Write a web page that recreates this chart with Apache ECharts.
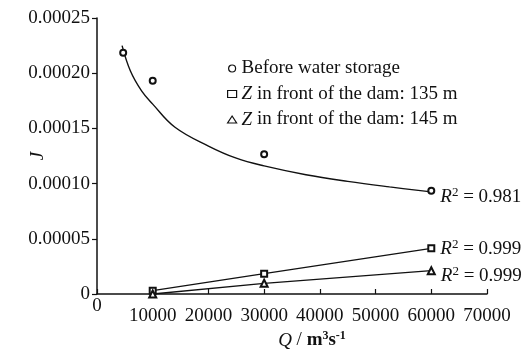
<!DOCTYPE html>
<html>
<head>
<meta charset="utf-8">
<script src="https://cdn.jsdelivr.net/npm/echarts@6/dist/echarts.min.js"></script>
<style>
html,body{margin:0;padding:0;background:#fff;}
#chart{width:527px;height:354px;}
</style>
</head>
<body>
<div id="chart"></div>
<script>
// ---- data ----
var beforeQ = [4700, 10000, 30000, 60000];
var beforeJ = [0.0002186, 0.0001932, 0.0001265, 0.0000936];

// fitted power curve
var fitQ = [4500, 6000, 8000, 10000, 14000, 20000, 25000, 30000, 37500, 45000, 52500, 60000];
var fitJ = [0.000225, 0.000202, 0.000184, 0.000172, 0.000151, 0.000134, 0.000123, 0.000116, 0.000108, 0.000102, 0.000097, 0.0000925];

var z135Q = [10000, 30000, 60000];
var z135J = [0.000003, 0.0000184, 0.0000414];

var z145Q = [10000, 30000, 60000];
var z145J = [0.0, 0.0000097, 0.0000211];

var seriesNames = ['Before water storage', 'Z in front of the dam: 135 m', 'Z in front of the dam: 145 m'];
var r2Labels = ['0.981', '0.999', '0.999'];

var FONT = '"Liberation Serif", "Times New Roman", serif';
var INK = '#111';
var FS = 19;

function pairs(xs, ys) { return xs.map(function (x, i) { return [x, ys[i]]; }); }

var r2Rich = {
  i: { fontFamily: FONT, fontSize: FS, fontStyle: 'italic', color: INK },
  sup: { fontFamily: FONT, fontSize: 13, color: INK, padding: [0, 0, 9, 0] },
  t: { fontFamily: FONT, fontSize: FS, color: INK }
};
function withLastLabel(xs, ys, txt, dy) {
  var d = pairs(xs, ys);
  var n = d.length - 1;
  d[n] = {
    value: [xs[n], ys[n]],
    label: {
      show: true, position: 'right', distance: 5, offset: [0, dy],
      opacity: 1,
      formatter: '{i|R}{sup|2}{t| = ' + txt + '}',
      rich: r2Rich
    }
  };
  return d;
}

var chart = echarts.init(document.getElementById('chart'), null, { renderer: 'canvas' });
chart.setOption({
  backgroundColor: '#fff',
  animation: false,
  grid: { left: 97, right: 40, top: 18, bottom: 60, containLabel: false, outerBoundsMode: 'none' },
  legend: {
    orient: 'vertical', left: 222, top: 54, itemGap: 6.5, padding: 5,
    itemWidth: 9, itemHeight: 7,
    data: [
      { name: seriesNames[0], icon: 'circle' },
      { name: seriesNames[1], icon: 'rect' },
      { name: seriesNames[2], icon: 'triangle' }
    ],
    itemStyle: { color: '#fff', borderColor: INK, borderWidth: 1.2 },
    formatter: function (name) {
      if (name.indexOf('Z ') === 0) return '{i|Z}{t|' + name.slice(1) + '}';
      return '{t|' + name + '}';
    },
    textStyle: {
      fontFamily: FONT, fontSize: FS, color: INK, lineHeight: 18,
      rich: {
        i: { fontFamily: FONT, fontSize: FS, fontStyle: 'italic', color: INK, lineHeight: 18 },
        t: { fontFamily: FONT, fontSize: FS, color: INK, lineHeight: 18 }
      }
    }
  },
  xAxis: {
    type: 'value', min: 0, max: 70000, interval: 10000,
    name: '{q|Q}{t| / }{b|m}{sup|3}{b|s}{sup|-1}',
    nameLocation: 'middle', nameGap: 36, nameMoveOverlap: false,
    nameTextStyle: {
      padding: [0, 0, 0, 40],
      rich: {
        q: { fontFamily: FONT, fontSize: FS, fontStyle: 'italic', color: INK },
        t: { fontFamily: FONT, fontSize: FS, color: INK },
        b: { fontFamily: FONT, fontSize: FS, fontWeight: 'bold', color: INK },
        sup: { fontFamily: FONT, fontSize: 12, fontWeight: 'bold', color: INK, padding: [0, 0, 9, 0] }
      }
    },
    axisLine: { show: true, onZero: false, lineStyle: { color: INK, width: 1.5 } },
    axisTick: { show: true, inside: true, length: 5, lineStyle: { color: INK, width: 1.2 } },
    splitLine: { show: false },
    axisLabel: {
      margin: 3,
      fontFamily: FONT, fontSize: FS, color: INK,
      formatter: function (v) { return v === 0 ? '{z|0}' : '{n|' + v + '}'; },
      rich: {
        z: { fontFamily: FONT, fontSize: FS, color: INK },
        n: { fontFamily: FONT, fontSize: FS, color: INK, padding: [10, 0, 0, 0] }
      }
    }
  },
  yAxis: {
    type: 'value', min: 0, max: 0.00025, interval: 0.00005,
    name: 'J', nameLocation: 'middle', nameGap: 50, nameRotate: 90, nameMoveOverlap: false,
    nameTextStyle: { fontFamily: FONT, fontSize: FS, fontStyle: 'italic', color: INK },
    axisLine: { show: true, onZero: false, lineStyle: { color: INK, width: 1.5 } },
    axisTick: { show: true, inside: false, length: 5, lineStyle: { color: INK, width: 1.2 } },
    splitLine: { show: false },
    axisLabel: {
      margin: 7, fontFamily: FONT, fontSize: FS, color: INK,
      formatter: function (v) { return v === 0 ? '0' : v.toFixed(5); }
    }
  },
  series: [
    {
      name: 'fit', type: 'line', smooth: 0.4, showSymbol: false, symbol: 'none',
      data: pairs(fitQ, fitJ),
      lineStyle: { color: INK, width: 1.4 }, z: 2
    },
    {
      name: seriesNames[0], type: 'scatter', symbol: 'emptyCircle', symbolSize: 6,
      itemStyle: { color: INK, borderColor: INK, borderWidth: 1, opacity: 1 },
      data: withLastLabel(beforeQ, beforeJ, r2Labels[0], 6), z: 3
    },
    {
      name: seriesNames[1], type: 'line', symbol: 'emptyRect', symbolSize: 6, showAllSymbol: true,
      itemStyle: { color: INK, borderColor: INK, borderWidth: 1 },
      lineStyle: { color: INK, width: 1.3 },
      data: withLastLabel(z135Q, z135J, r2Labels[1], 1), z: 3
    },
    {
      name: seriesNames[2], type: 'line', symbol: 'emptyTriangle', symbolSize: 7, showAllSymbol: true,
      itemStyle: { color: INK, borderColor: INK, borderWidth: 1 },
      lineStyle: { color: INK, width: 1.3 },
      data: withLastLabel(z145Q, z145J, r2Labels[2], 5), z: 3
    }
  ]
});
</script>
</body>
</html>
